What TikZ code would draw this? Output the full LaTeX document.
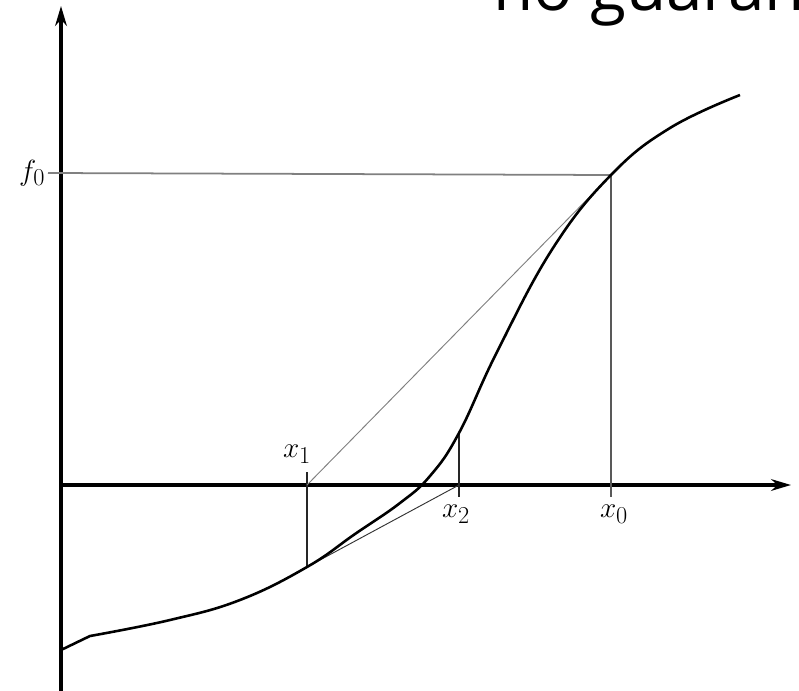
\documentclass[tikz,border=0pt]{standalone}
\usepackage{fontspec}
\newfontfamily\headfont{Open Sans}
\usetikzlibrary{arrows.meta}

\begin{document}
\begin{tikzpicture}[x=0.03cm, y=-0.03cm, font=\fontsize{32}{32}\selectfont, >={Stealth[length=17pt,width=10pt]}]
		\clip (0,0) rectangle (799,691);
		\coordinate (O) at (61,485);
		\coordinate (Ytop) at (61,6);
		\coordinate (Ybot) at (61,700);
		\coordinate (Xend) at (791,485);
		\coordinate (F0) at (48,173);
		\coordinate (P0) at (611,175);
		\coordinate (A0) at (611,485);
		\coordinate (B0) at (611,497);
		\coordinate (T1) at (307,472);
		\coordinate (A1) at (307,485);
		\coordinate (P1) at (307,567);
		\coordinate (P2) at (459,433);
		\coordinate (A2) at (459,485);
		\coordinate (B2) at (459,497);
		\draw[line width=2.6pt,->] (Ybot)--(Ytop);
		\draw[line width=2.6pt,->] (O)--(Xend);
		\draw[gray, line width=1.5pt] (F0)--(P0);
		\draw[black!65, line width=1.6pt] (P0)--(B0);
		\draw[black!85, line width=1.5pt] (T1)--(P1);
		\draw[black!85, line width=1.5pt] (P2)--(B2);
		\draw[gray, line width=0.8pt] (A1)--(P0);
		\draw[black!80, line width=0.8pt] (P1)--(A2);
		\draw[line width=2.2pt, line join=round] (61,650)--(90,636) plot[smooth, tension=0.7] coordinates {(90,636) (170,620) (240,600) (307,567) (355,534) (400,503) (430,476) (459,433) (497,352) (553,248) (611,175) (670,128) (740,95)};
		\node (lf0) at (F0) [left=-1pt]{$f_0$};
		\node (lx1) at (297,454) {$x_1$};
		\node (lx2) at (456,514) {$x_2$};
		\node (lx0) at (614,514) {$x_0$};
		\node (head) at (493,10) [anchor=base west, inner sep=0pt, font=\headfont\fontsize{56}{56}\selectfont]{no guarantee};
\end{tikzpicture}
\end{document}
